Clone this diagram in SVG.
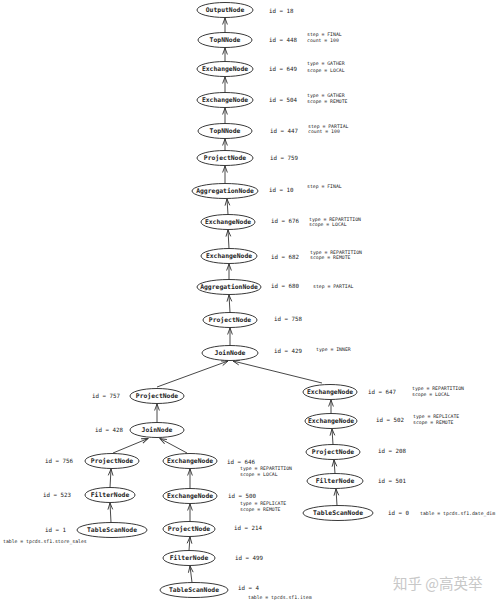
<svg xmlns="http://www.w3.org/2000/svg" width="500" height="604" viewBox="0 0 500 604">
<style>
.n ellipse{fill:#fff;stroke:#222;stroke-width:0.9}
.n text.l{font-family:"DejaVu Sans Mono",monospace;font-weight:bold;font-size:6.4px;fill:#222;text-anchor:middle;dominant-baseline:central}
text.id{font-family:"DejaVu Sans Mono",monospace;font-size:5.8px;fill:#222;dominant-baseline:central}
text.s{font-family:"DejaVu Sans Mono",monospace;font-size:4.8px;fill:#222;dominant-baseline:central}
#edges line{stroke:#333;stroke-width:0.9;marker-end:url(#ah)}
</style>
<defs>
<marker id="ah" viewBox="0 0 8 8" refX="7.5" refY="4" markerWidth="8" markerHeight="8" markerUnits="userSpaceOnUse" orient="auto">
<path d="M1,1.6 L7.5,4 L1,6.4" fill="none" stroke="#333" stroke-width="0.9"/>
</marker>
</defs>
<rect width="500" height="604" fill="#fff"/>
<g id="edges">
<line x1="225" y1="32.5" x2="225" y2="18"/>
<line x1="225" y1="61.5" x2="225" y2="48"/>
<line x1="225" y1="92.5" x2="225" y2="77"/>
<line x1="225" y1="123.5" x2="225" y2="108"/>
<line x1="225" y1="150.5" x2="225" y2="139"/>
<line x1="225" y1="183.5" x2="225" y2="166"/>
<line x1="228" y1="214.5" x2="227" y2="199"/>
<line x1="229" y1="248.5" x2="228" y2="230"/>
<line x1="229" y1="279.5" x2="229" y2="264"/>
<line x1="230" y1="312.5" x2="229" y2="295"/>
<line x1="230" y1="345.5" x2="230" y2="328"/>
<line x1="157" y1="387" x2="228" y2="361"/>
<line x1="322" y1="383" x2="233" y2="361"/>
<line x1="157" y1="422.5" x2="157" y2="404"/>
<line x1="113" y1="453" x2="148" y2="438.5"/>
<line x1="187" y1="453" x2="160" y2="438.5"/>
<line x1="110" y1="487.5" x2="111" y2="469"/>
<line x1="111" y1="522.5" x2="110" y2="503"/>
<line x1="190" y1="488.5" x2="190" y2="469"/>
<line x1="190" y1="521.5" x2="190" y2="504"/>
<line x1="189" y1="550.5" x2="190" y2="537"/>
<line x1="192" y1="582.5" x2="190" y2="566"/>
<line x1="331" y1="413.5" x2="331" y2="400"/>
<line x1="333" y1="444.5" x2="332" y2="429"/>
<line x1="335" y1="473.5" x2="334" y2="460"/>
<line x1="337" y1="505.5" x2="336" y2="489"/>
</g>
<g id="n18" class="n"><ellipse cx="225" cy="10" rx="28" ry="7.5"/><text class="l" x="225" y="10">OutputNode</text></g>
<g id="n448" class="n"><ellipse cx="225" cy="40" rx="27" ry="7.5"/><text class="l" x="225" y="40">TopNNode</text></g>
<g id="n649" class="n"><ellipse cx="225" cy="69" rx="28" ry="7.5"/><text class="l" x="225" y="69">ExchangeNode</text></g>
<g id="n504" class="n"><ellipse cx="225" cy="100" rx="28" ry="7.5"/><text class="l" x="225" y="100">ExchangeNode</text></g>
<g id="n447" class="n"><ellipse cx="225" cy="131" rx="27" ry="7.5"/><text class="l" x="225" y="131">TopNNode</text></g>
<g id="n759" class="n"><ellipse cx="225" cy="158" rx="28" ry="7.5"/><text class="l" x="225" y="158">ProjectNode</text></g>
<g id="n10" class="n"><ellipse cx="225" cy="191" rx="33" ry="7.5"/><text class="l" x="225" y="191">AggregationNode</text></g>
<g id="n676" class="n"><ellipse cx="228" cy="222" rx="27" ry="7.5"/><text class="l" x="228" y="222">ExchangeNode</text></g>
<g id="n682" class="n"><ellipse cx="229" cy="256" rx="28" ry="7.5"/><text class="l" x="229" y="256">ExchangeNode</text></g>
<g id="n680" class="n"><ellipse cx="229" cy="287" rx="32" ry="7.5"/><text class="l" x="229" y="287">AggregationNode</text></g>
<g id="n758" class="n"><ellipse cx="230" cy="320" rx="27" ry="7.5"/><text class="l" x="230" y="320">ProjectNode</text></g>
<g id="n429" class="n"><ellipse cx="230" cy="353" rx="28" ry="7.5"/><text class="l" x="230" y="353">JoinNode</text></g>
<g id="n757" class="n"><ellipse cx="157" cy="396" rx="27" ry="7.5"/><text class="l" x="157" y="396">ProjectNode</text></g>
<g id="n428" class="n"><ellipse cx="157" cy="430" rx="27" ry="7.5"/><text class="l" x="157" y="430">JoinNode</text></g>
<g id="n756" class="n"><ellipse cx="112" cy="461" rx="27" ry="7.5"/><text class="l" x="112" y="461">ProjectNode</text></g>
<g id="n646" class="n"><ellipse cx="190" cy="461" rx="27" ry="7.5"/><text class="l" x="190" y="461">ExchangeNode</text></g>
<g id="n523" class="n"><ellipse cx="110" cy="495" rx="25" ry="7.5"/><text class="l" x="110" y="495">FilterNode</text></g>
<g id="n500" class="n"><ellipse cx="190" cy="496" rx="27" ry="7.5"/><text class="l" x="190" y="496">ExchangeNode</text></g>
<g id="n1" class="n"><ellipse cx="112" cy="530" rx="35" ry="7.5"/><text class="l" x="112" y="530">TableScanNode</text></g>
<g id="n214" class="n"><ellipse cx="189" cy="529" rx="26" ry="7.5"/><text class="l" x="189" y="529">ProjectNode</text></g>
<g id="n499" class="n"><ellipse cx="189" cy="558" rx="26" ry="7.5"/><text class="l" x="189" y="558">FilterNode</text></g>
<g id="n4" class="n"><ellipse cx="194" cy="590" rx="34" ry="7.5"/><text class="l" x="194" y="590">TableScanNode</text></g>
<g id="n647" class="n"><ellipse cx="330" cy="392" rx="27" ry="7.5"/><text class="l" x="330" y="392">ExchangeNode</text></g>
<g id="n502" class="n"><ellipse cx="331" cy="421" rx="26" ry="7.5"/><text class="l" x="331" y="421">ExchangeNode</text></g>
<g id="n208" class="n"><ellipse cx="333" cy="452" rx="27" ry="7.5"/><text class="l" x="333" y="452">ProjectNode</text></g>
<g id="n501" class="n"><ellipse cx="335" cy="481" rx="28" ry="7.5"/><text class="l" x="335" y="481">FilterNode</text></g>
<g id="n0" class="n"><ellipse cx="338" cy="513" rx="35" ry="7.5"/><text class="l" x="338" y="513">TableScanNode</text></g>
<g id="labels">
<text class="id" x="269" y="11">id = 18</text>
<text class="id" x="269" y="40">id = 448</text>
<text class="s" x="307" y="34">step = FINAL</text>
<text class="s" x="307" y="40">count = 100</text>
<text class="id" x="269" y="69">id = 649</text>
<text class="s" x="307" y="63">type = GATHER</text>
<text class="s" x="307" y="70">scope = LOCAL</text>
<text class="id" x="269" y="100">id = 504</text>
<text class="s" x="307" y="95">type = GATHER</text>
<text class="s" x="307" y="101">scope = REMOTE</text>
<text class="id" x="270" y="131">id = 447</text>
<text class="s" x="308" y="126">step = PARTIAL</text>
<text class="s" x="308" y="131.5">count = 100</text>
<text class="id" x="270" y="158">id = 759</text>
<text class="id" x="269" y="190">id = 10</text>
<text class="s" x="307" y="186">step = FINAL</text>
<text class="id" x="271" y="221">id = 676</text>
<text class="s" x="309" y="219">type = REPARTITION</text>
<text class="s" x="309" y="224.5">scope = LOCAL</text>
<text class="id" x="271" y="257">id = 682</text>
<text class="s" x="310" y="252">type = REPARTITION</text>
<text class="s" x="310" y="257.5">scope = REMOTE</text>
<text class="id" x="271" y="286">id = 680</text>
<text class="s" x="313" y="286">step = PARTIAL</text>
<text class="id" x="274" y="319">id = 758</text>
<text class="id" x="274" y="351">id = 429</text>
<text class="s" x="316" y="349">type = INNER</text>
<text class="id" x="92" y="396">id = 757</text>
<text class="id" x="95" y="430">id = 428</text>
<text class="id" x="45" y="461">id = 756</text>
<text class="id" x="227" y="462">id = 646</text>
<text class="s" x="240" y="468">type = REPARTITION</text>
<text class="s" x="240" y="474">scope = LOCAL</text>
<text class="id" x="43" y="495">id = 523</text>
<text class="id" x="228" y="496">id = 500</text>
<text class="s" x="240" y="503">type = REPLICATE</text>
<text class="s" x="240" y="509">scope = REMOTE</text>
<text class="id" x="45" y="530">id = 1</text>
<text class="s" x="3" y="541">table = tpcds.sf1.store_sales</text>
<text class="id" x="234" y="528">id = 214</text>
<text class="id" x="235" y="558">id = 499</text>
<text class="id" x="238" y="588">id = 4</text>
<text class="s" x="248" y="597">table = tpcds.sf1.item</text>
<text class="id" x="368" y="392">id = 647</text>
<text class="s" x="412" y="388">type = REPARTITION</text>
<text class="s" x="412" y="394">scope = LOCAL</text>
<text class="id" x="376" y="420">id = 502</text>
<text class="s" x="413" y="416">type = REPLICATE</text>
<text class="s" x="413" y="422">scope = REMOTE</text>
<text class="id" x="378" y="451">id = 208</text>
<text class="id" x="378" y="481">id = 501</text>
<text class="id" x="388" y="513">id = 0</text>
<text class="s" x="420" y="513">table = tpcds.sf1.date_dim</text>
<text x="393" y="589" font-family="Noto Sans CJK SC, sans-serif" font-size="14.5" fill="#c8c8c8">知乎 @高英举</text>
</g>
</svg>
